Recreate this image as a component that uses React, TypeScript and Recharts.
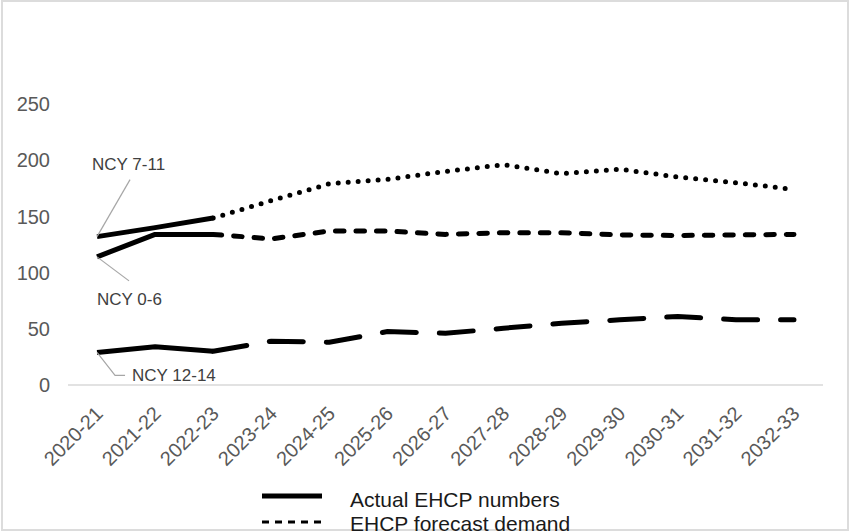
import { LineChart, Line, XAxis, YAxis, Legend } from "recharts"

const years = [
  "2020-21", "2021-22", "2022-23", "2023-24", "2024-25", "2025-26", "2026-27",
  "2027-28", "2028-29", "2029-30", "2030-31", "2031-32", "2032-33",
]

// actual numbers, 2020-21 to 2022-23
const actual0to6 = [114, 134, 134]
const actual7to11 = [132, 140, 148.5]
const actual12to14 = [29, 34, 30]

// forecast demand, starting where the actual lines stop (2022-23)
const forecast0to6 = [134, 130, 137, 137, 134, 135.5, 135.5, 133.5, 133, 133.5, 134]
const forecast7to11 = [148.5, 164, 179, 183, 190, 196, 188, 192, 185, 180, 174]
const forecast12to14 = [30, 39, 38, 47.5, 46, 50.5, 55, 58, 61, 58, 58]

const yTicks = [0, 50, 100, 150, 200, 250]
const groupNames = ["NCY 0-6", "NCY 7-11", "NCY 12-14"]
const legendNames = ["Actual EHCP numbers", "EHCP forecast demand"]

const forecastStart = years.indexOf("2022-23")

const data = years.map((year, i) => ({
  year,
  a06: actual0to6[i] ?? null,
  a711: actual7to11[i] ?? null,
  a1214: actual12to14[i] ?? null,
  f06: i >= forecastStart ? forecast0to6[i - forecastStart] : null,
  f711: i >= forecastStart ? forecast7to11[i - forecastStart] : null,
  f1214: i >= forecastStart ? forecast12to14[i - forecastStart] : null,
}))

// leader line + text placement relative to the first point of each line
const tagLayout: Record<string, { leader: number[][]; tx: number; ty: number }> = {
  "NCY 0-6": { leader: [[0, 0], [32, 24]], tx: 0, ty: 48 },
  "NCY 7-11": { leader: [[0, 0], [33, -57]], tx: -5, ty: -67 },
  "NCY 12-14": { leader: [[0, 0], [18, 23], [28, 23]], tx: 35, ty: 29 },
}

function seriesTag(name: string) {
  return (p: any) => {
    if (p.index !== 0 || p.cx == null) return <g key={`d-${name}-${p.index}`} />
    const t = tagLayout[name]
    const pts = t.leader.map(([dx, dy]) => `${p.cx + dx},${p.cy + dy}`).join(" ")
    return (
      <g key={`tag-${name}`}>
        <polyline points={pts} fill="none" stroke="#a6a6a6" strokeWidth={1.2} />
        <text x={p.cx + t.tx} y={p.cy + t.ty} fontSize={17} fill="#404040">
          {name}
        </text>
      </g>
    )
  }
}

function YearTick({ x, y, payload }: any) {
  return (
    <g transform={`translate(${x + 7},${y + 30})`}>
      <text transform="rotate(-45)" textAnchor="end" fontSize={20} fill="#595959">
        {payload.value}
      </text>
    </g>
  )
}

function LegendBox() {
  return (
    <svg width={850} height={50} style={{ overflow: "visible", display: "block" }}>
      <line x1={262} x2={322} y1={12} y2={12} stroke="#000" strokeWidth={5} />
      <text x={350} y={23} fontSize={21} fill="#1a1a1a">{legendNames[0]}</text>
      <line x1={262} x2={323} y1={38} y2={38} stroke="#000" strokeWidth={3} strokeDasharray="7 6" />
      <text x={350} y={47} fontSize={21} fill="#1a1a1a">{legendNames[1]}</text>
    </svg>
  )
}

export default function App() {
  return (
    <div
      style={{
        position: "absolute",
        left: 0,
        top: 0,
        width: 850,
        height: 532,
        overflow: "hidden",
        background: "#fff",
        fontFamily: "'Liberation Sans', Arial, sans-serif",
      }}
    >
      <div
        style={{
          position: "absolute",
          left: 1,
          top: 0,
          width: 848,
          height: 531,
          boxSizing: "border-box",
          border: "2px solid #dcdcdc",
        }}
      />
      <div style={{ position: "absolute", left: 0, top: 0 }}>
        <LineChart width={850} height={532} data={data} margin={{ top: 104, right: 27, bottom: 67, left: 0 }}>
          <XAxis
            dataKey="year"
            scale="band"
            height={80}
            interval={0}
            tickLine={false}
            tickSize={0}
            tickMargin={0}
            axisLine={{ stroke: "#d9d9d9", strokeWidth: 1.5 }}
            tick={(p: any) => <YearTick key={p.index} {...p} />}
          />
          <YAxis
            width={68}
            domain={[0, 250]}
            ticks={yTicks}
            tickLine={false}
            axisLine={false}
            tickSize={6}
            tickMargin={12}
            tick={{ fill: "#595959", fontSize: 20 }}
          />
          <Legend
            layout="vertical"
            align="center"
            verticalAlign="middle"
            wrapperStyle={{ left: 0, top: 484, width: 850, height: 50 }}
            content={() => <LegendBox />}
          />
          <Line dataKey="f711" stroke="#000" strokeWidth={5} strokeDasharray="0 10" strokeLinecap="round"
            dot={false} activeDot={false} isAnimationActive={false} legendType="none" />
          <Line dataKey="f06" stroke="#000" strokeWidth={5} strokeDasharray="8.5 12" strokeLinecap="round"
            dot={false} activeDot={false} isAnimationActive={false} legendType="none" />
          <Line dataKey="f1214" stroke="#000" strokeWidth={5} strokeDasharray="34 23" strokeLinecap="round"
            dot={false} activeDot={false} isAnimationActive={false} legendType="none" />
          <Line dataKey="a711" stroke="#000" strokeWidth={5} strokeLinejoin="round"
            dot={seriesTag(groupNames[1])} activeDot={false} isAnimationActive={false} legendType="none" />
          <Line dataKey="a06" stroke="#000" strokeWidth={5} strokeLinejoin="round"
            dot={seriesTag(groupNames[0])} activeDot={false} isAnimationActive={false} legendType="none" />
          <Line dataKey="a1214" stroke="#000" strokeWidth={5} strokeLinejoin="round"
            dot={seriesTag(groupNames[2])} activeDot={false} isAnimationActive={false} legendType="none" />
        </LineChart>
      </div>
    </div>
  )
}
